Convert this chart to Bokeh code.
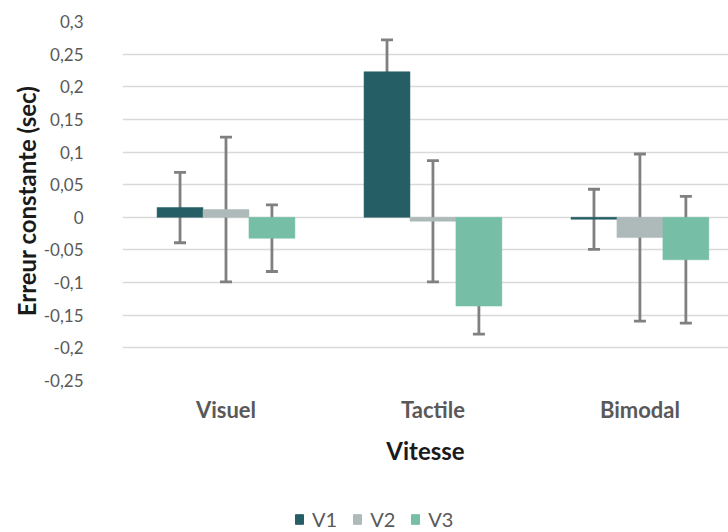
from bokeh.plotting import figure
from bokeh.models import (ColumnDataSource, Range1d, FixedTicker, Whisker, TeeHead,
                          Legend, LegendItem)
from bokeh.layouts import column
from bokeh.embed import file_html
from bokeh.resources import INLINE

categories = ["Visuel", "Tactile", "Bimodal"]
series = ["V1", "V2", "V3"]
v1 = [0.015, 0.223, -0.003]
v2 = [0.012, -0.006, -0.031]
v3 = [-0.032, -0.136, -0.065]
err1 = [0.054, 0.049, 0.046]
err2 = [0.111, 0.093, 0.128]
err3 = [0.051, 0.043, 0.097]
y_ticks = [-0.25, -0.2, -0.15, -0.1, -0.05, 0, 0.05, 0.1, 0.15, 0.2, 0.25, 0.3]
y_tick_labels = ["-0,25", "-0,2", "-0,15", "-0,1", "-0,05", "0", "0,05", "0,1", "0,15", "0,2", "0,25", "0,3"]

colors = ["#265E66", "#ADBAB9", "#76BEA6"]
FONT = "Lato"
bar_w = 0.222
offsets = [-bar_w, 0.0, bar_w]

p = figure(width=728, height=496, output_backend="svg", toolbar_location=None,
           x_range=Range1d(0, 2.928), y_range=Range1d(-0.25, 0.3),
           min_border_top=21, min_border_left=122, min_border_right=0,
           min_border_bottom=116)
p.outline_line_color = None
p.background_fill_color = "white"
p.border_fill_color = "white"

centers = [i + 0.5 for i in range(len(categories))]
for vals, errs, off, col in zip([v1, v2, v3], [err1, err2, err3], offsets, colors):
    xs = [c + off for c in centers]
    src = ColumnDataSource(dict(x=xs, top=vals,
                                upper=[v + e for v, e in zip(vals, errs)],
                                lower=[v - e for v, e in zip(vals, errs)]))
    p.vbar(x="x", top="top", bottom=0, width=bar_w, source=src,
           fill_color=col, line_color=col, line_width=0.5)
    wk = Whisker(base="x", upper="upper", lower="lower", source=src,
                 line_color="#808080", line_width=2.8,
                 upper_head=TeeHead(size=12, line_color="#808080", line_width=2.8),
                 lower_head=TeeHead(size=12, line_color="#808080", line_width=2.8))
    p.add_layout(wk)

# axes
p.xgrid.grid_line_color = None
p.ygrid.grid_line_color = "#D9D9D9"
p.ygrid.grid_line_width = 1.3
p.yaxis.ticker = FixedTicker(ticks=y_ticks)
p.yaxis.major_label_overrides = {t: l for t, l in zip(y_ticks, y_tick_labels)}
p.xaxis.ticker = FixedTicker(ticks=centers)
p.xaxis.major_label_overrides = {c: n for c, n in zip(centers, categories)}

for ax in (p.xaxis, p.yaxis):
    ax.axis_line_color = None
    ax.major_tick_line_color = None
    ax.minor_tick_line_color = None
    ax.major_label_text_font = FONT
    ax.axis_label_text_font = FONT
    ax.axis_label_text_font_style = "bold"
    ax.axis_label_text_color = "#1a1a1a"

p.yaxis.major_label_text_font_size = "17px"
p.yaxis.major_label_text_color = "#595959"
p.yaxis.major_label_standoff = 33
p.yaxis.axis_label = "Erreur constante (sec)"
p.yaxis.axis_label_text_font_size = "24px"
p.yaxis.axis_label_standoff = 0

p.xaxis.major_label_text_font_size = "22px"
p.xaxis.major_label_text_font_style = "bold"
p.xaxis.major_label_text_color = "#595959"
p.xaxis.major_label_standoff = 9
p.xaxis.axis_label = "Vitesse"
p.xaxis.axis_label_text_font_size = "24px"
p.xaxis.axis_label_standoff = 10

# legend strip below the chart
lg = figure(width=728, height=36, output_backend="svg", toolbar_location=None,
            x_range=Range1d(0, 1), y_range=Range1d(0, 1),
            min_border_top=0, min_border_left=0, min_border_right=0, min_border_bottom=0)
lg.axis.visible = False
lg.grid.grid_line_color = None
lg.outline_line_color = None
leg_renderers = []
for col in colors:
    # off-screen proxy glyph so the legend can draw its colour swatch
    r = lg.vbar(x=[-5], top=[0], width=0.1, fill_color=col, line_color=col)
    leg_renderers.append(r)

legend = Legend(items=[LegendItem(label=s, renderers=[r]) for s, r in zip(series, leg_renderers)],
                orientation="horizontal", location=(172, 1))
legend.label_text_font = FONT
legend.label_text_font_size = "20px"
legend.label_text_color = "#595959"
legend.glyph_width = 10
legend.glyph_height = 12
legend.label_height = 20
legend.label_standoff = 8
legend.spacing = 15
legend.padding = 1
legend.margin = 0
legend.border_line_color = None
legend.background_fill_alpha = 0
lg.add_layout(legend, "center")

layout = column(p, lg, spacing=0)
open("out.html", "w").write(file_html(layout, INLINE))
